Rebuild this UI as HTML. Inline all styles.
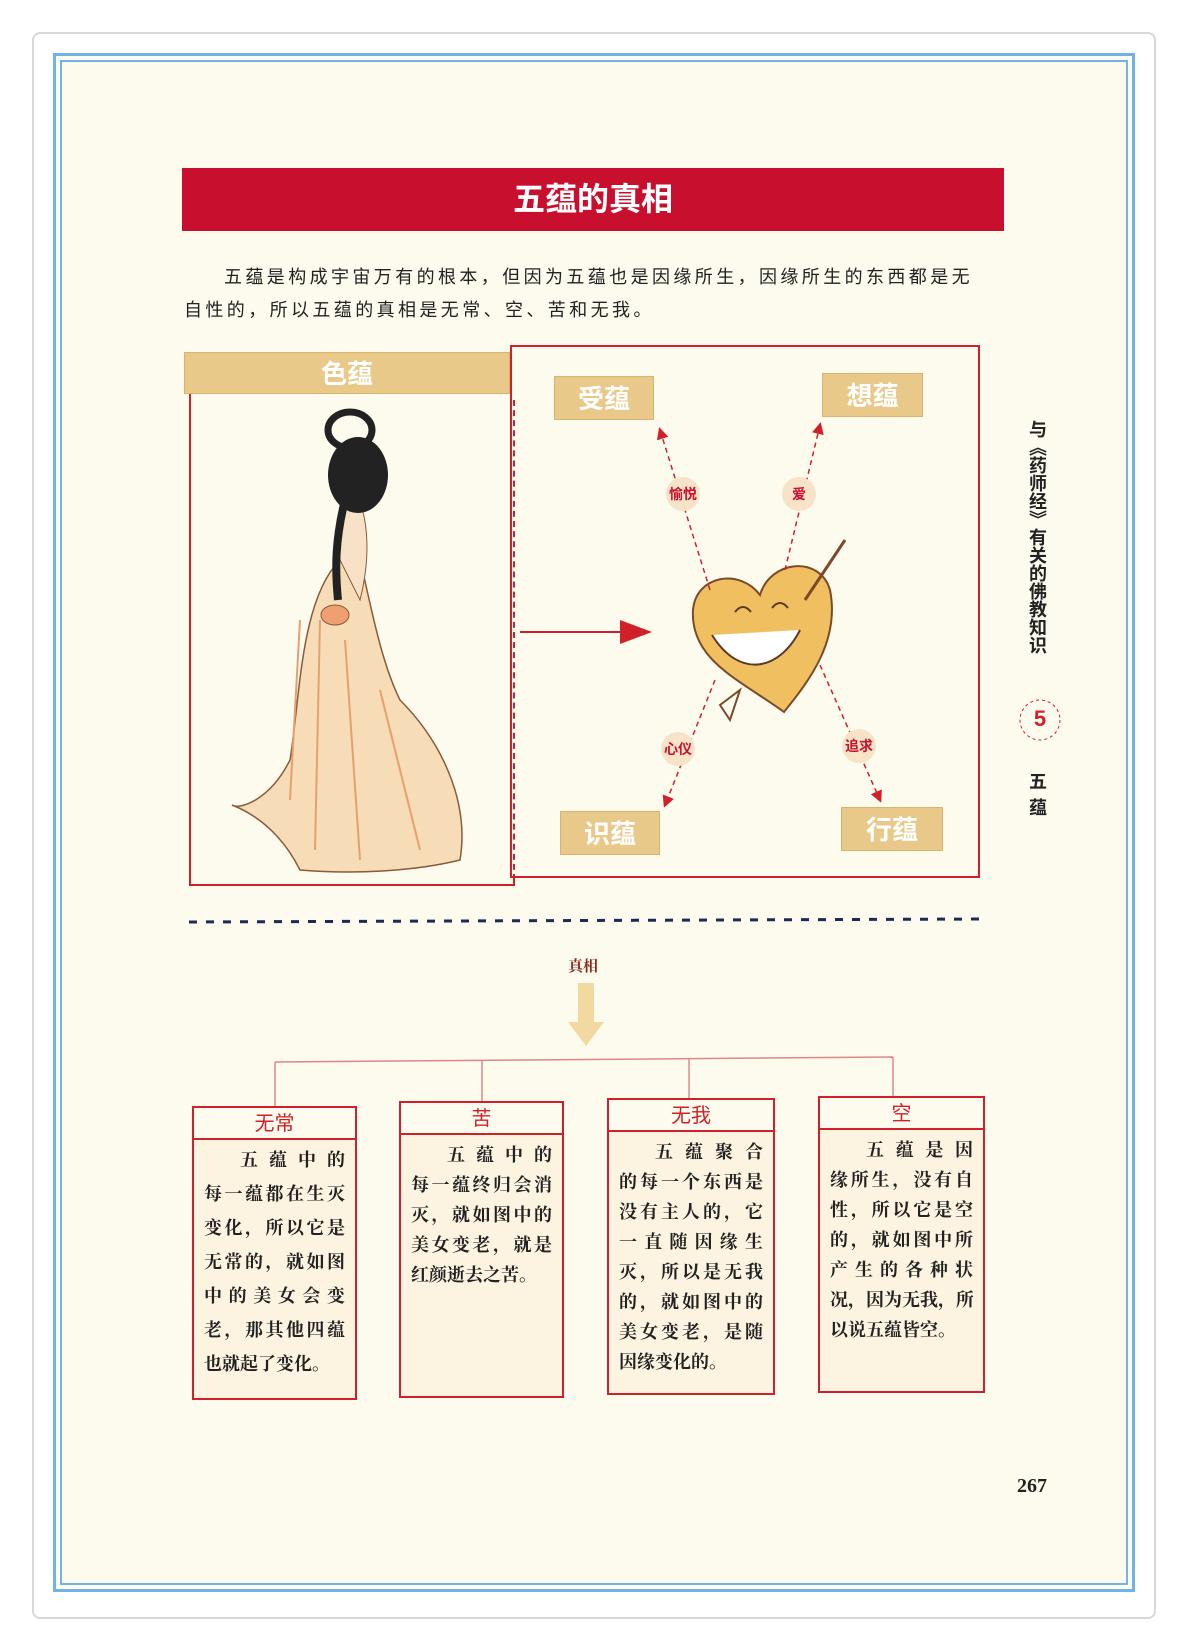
<!DOCTYPE html>
<html><head><meta charset="utf-8">
<style>
*{margin:0;padding:0;box-sizing:border-box}
body{width:1188px;height:1649px;background:#fff;position:relative;overflow:hidden;font-family:"Liberation Sans","Noto Sans CJK SC",sans-serif}
.abs{position:absolute}
.card{left:32px;top:32px;width:1124px;height:1587px;border:2px solid #d8d8d8;border-radius:8px;background:#fff}
.blue{left:53px;top:53px;width:1082px;height:1539px;border:3px solid #6fb3ea;background:#fdfbee}
.blue2{left:60px;top:60px;width:1068px;height:1525px;border:2px solid #6fb3ea}
.title{left:182px;top:168px;width:822px;height:63px;background:#c8102e;color:#fff;font-size:32px;font-weight:bold;text-align:center;line-height:63px}
.p{font-size:18px;color:#222;letter-spacing:3.4px;white-space:nowrap}
.lab{background:#e9c98a;color:#fff;font-size:26px;font-weight:bold;text-align:center;border:1px solid #d9b46a}
.circ{width:34px;height:34px;border-radius:50%;background:#f6e3c8;color:#c8102e;font-size:14px;font-weight:bold;text-align:center;line-height:34px}
.box{border:2px solid #d0202a;background:#fcf4e0}
.box .h{height:32px;border-bottom:2px solid #d0202a;color:#d0202a;text-align:center;font-size:20px;line-height:32px;background:#fdfbee}
.box .t{padding:4px 10px 0 10px;font-size:18px;line-height:30px;font-weight:bold;color:#222;font-family:"Noto Serif CJK SC","Noto Sans CJK SC",serif}
.box .t div{text-align:justify;text-align-last:justify;white-space:nowrap;overflow:hidden}
.box .t div.f{padding-left:36px}
.box .t div.l{text-align-last:left}
.side{left:1026px;top:420px;writing-mode:vertical-rl;font-size:18px;font-weight:bold;line-height:24px;color:#222;font-family:"Noto Sans CJK SC",sans-serif}
</style></head><body>
<div class="abs card"></div>
<div class="abs blue"></div>
<div class="abs blue2"></div>
<div class="abs title">五蕴的真相</div>
<div class="abs p" style="left:224px;top:263px">五蕴是构成宇宙万有的根本，但因为五蕴也是因缘所生，因缘所生的东西都是无</div>
<div class="abs p" style="left:184px;top:296px">自性的，所以五蕴的真相是无常、空、苦和无我。</div>

<div class="abs" style="left:189px;top:352px;width:326px;height:534px;border:2px solid #d0202a;border-top:none;background:#fdfbee"></div>
<div class="abs" style="left:510px;top:345px;width:470px;height:533px;border:2px solid #d0202a;background:#fdfbee"></div>
<div class="abs" style="left:513px;top:400px;height:480px;border-left:2px dashed #d0202a"></div>
<div class="abs lab" style="left:184px;top:352px;width:326px;height:42px;line-height:42px">色蕴</div>
<div class="abs lab" style="left:554px;top:376px;width:100px;height:44px;line-height:44px">受蕴</div>
<div class="abs lab" style="left:822px;top:373px;width:101px;height:44px;line-height:44px">想蕴</div>
<div class="abs lab" style="left:560px;top:811px;width:100px;height:44px;line-height:44px">识蕴</div>
<div class="abs lab" style="left:841px;top:807px;width:102px;height:44px;line-height:44px">行蕴</div>

<svg class="abs" style="left:0;top:0" width="1188" height="1649">
<defs><marker id="a" markerWidth="8" markerHeight="8" refX="6" refY="4" orient="auto"><path d="M0,0L8,4L0,8z" fill="#d0202a"/></marker></defs>
<g>
<path d="M340,560 C300,600 300,700 290,760 C270,800 240,810 232,805 C270,820 290,850 300,870 C360,875 420,870 460,860 C470,800 440,740 400,700 C380,660 370,600 360,560 Z" fill="#f7dcb8" stroke="#8a5a3a" stroke-width="1.5"/>
<path d="M300,620 L290,800 M320,620 L315,850 M345,640 L360,860 M380,690 L420,850" stroke="#e6a070" stroke-width="2" fill="none"/>
<path d="M340,560 C335,530 340,500 355,490 C370,520 370,560 360,600 Z" fill="#f7e2c8" stroke="#8a5a3a"/>
<ellipse cx="358" cy="475" rx="30" ry="38" fill="#222"/>
<ellipse cx="350" cy="430" rx="22" ry="18" fill="none" stroke="#222" stroke-width="7"/>
<path d="M345,500 C335,540 335,570 338,600" stroke="#222" stroke-width="8" fill="none"/>
<ellipse cx="335" cy="615" rx="14" ry="10" fill="#f0a070" stroke="#8a5a3a"/>
</g>
<line x1="520" y1="632" x2="648" y2="632" stroke="#d0202a" stroke-width="2"/>
<path d="M620,620 L652,632 L620,644z" fill="#d0202a"/>
<path d="M784,712 C740,680 690,660 693,610 C696,575 740,568 760,595 C770,560 820,555 830,590 C840,640 810,680 784,712 Z" fill="#f0c060" stroke="#7a4a2a" stroke-width="2"/>
<path d="M712,635 C740,680 780,670 800,630" fill="#fff" stroke="#5a3a2a" stroke-width="2"/>
<path d="M735,612 q8,-10 16,0 M772,608 q8,-10 16,0" stroke="#5a3a2a" stroke-width="2" fill="none"/>
<line x1="845" y1="540" x2="805" y2="600" stroke="#7a4a2a" stroke-width="3"/>
<path d="M720,705 L740,690 L730,720z" fill="none" stroke="#7a4a2a" stroke-width="2"/>
<g stroke="#d0202a" stroke-width="1.5" stroke-dasharray="5,4" fill="none" marker-end="url(#a)">
<line x1="710" y1="590" x2="660" y2="430"/>
<line x1="785" y1="570" x2="820" y2="425"/>
<line x1="715" y1="680" x2="665" y2="805"/>
<line x1="820" y1="665" x2="880" y2="800"/>
</g>
<line x1="189" y1="922" x2="980" y2="919" stroke="#1a2a5a" stroke-width="3" stroke-dasharray="8,9"/>
<path d="M578,983 L594,983 L594,1022 L604,1022 L586,1046 L568,1022 L578,1022Z" fill="#f2d9a0"/>
<g stroke="#d88" stroke-width="1.5" fill="none">
<line x1="275" y1="1062" x2="893" y2="1057"/>
<line x1="275" y1="1062" x2="275" y2="1106"/>
<line x1="482" y1="1060" x2="482" y2="1101"/>
<line x1="689" y1="1059" x2="689" y2="1098"/>
<line x1="893" y1="1057" x2="893" y2="1096"/>
</g>
<circle cx="1040" cy="720" r="20" fill="none" stroke="#d0202a" stroke-width="1" stroke-dasharray="3,3"/>
</svg>
<div class="abs circ" style="left:666px;top:477px">愉悦</div>
<div class="abs circ" style="left:782px;top:477px">爱</div>
<div class="abs circ" style="left:661px;top:732px">心仪</div>
<div class="abs circ" style="left:842px;top:729px">追求</div>
<div class="abs" style="left:568px;top:955px;font-size:15px;font-weight:bold;color:#8a2a1a;font-family:'Noto Serif CJK SC',serif">真相</div>

<div class="abs box" style="left:192px;top:1106px;width:165px;height:294px"><div class="h">无常</div><div class="t" style="line-height:34px;padding-top:2px"><div class="f">五蕴中的</div><div>每一蕴都在生灭</div><div>变化，所以它是</div><div>无常的，就如图</div><div>中的美女会变</div><div>老，那其他四蕴</div><div class="l">也就起了变化。</div></div></div>
<div class="abs box" style="left:399px;top:1101px;width:165px;height:297px"><div class="h">苦</div><div class="t"><div class="f">五蕴中的</div><div>每一蕴终归会消</div><div>灭，就如图中的</div><div>美女变老，就是</div><div class="l">红颜逝去之苦。</div></div></div>
<div class="abs box" style="left:607px;top:1098px;width:168px;height:297px"><div class="h">无我</div><div class="t"><div class="f">五蕴聚合</div><div>的每一个东西是</div><div>没有主人的，它</div><div>一直随因缘生</div><div>灭，所以是无我</div><div>的，就如图中的</div><div>美女变老，是随</div><div class="l">因缘变化的。</div></div></div>
<div class="abs box" style="left:818px;top:1096px;width:167px;height:297px"><div class="h">空</div><div class="t"><div class="f">五蕴是因</div><div>缘所生，没有自</div><div>性，所以它是空</div><div>的，就如图中所</div><div>产生的各种状</div><div>况，因为无我，所</div><div class="l">以说五蕴皆空。</div></div></div>

<div class="abs side">与《药师经》有关的佛教知识</div>
<div class="abs" style="left:1030px;top:706px;width:20px;font-size:22px;font-weight:bold;color:#d0202a;text-align:center">5</div>
<div class="abs side" style="top:772px;letter-spacing:8px">五蕴</div>
<div class="abs" style="left:1017px;top:1475px;font-size:20px;font-weight:bold;font-family:'Liberation Serif',serif;color:#222">267</div>
</body></html>
